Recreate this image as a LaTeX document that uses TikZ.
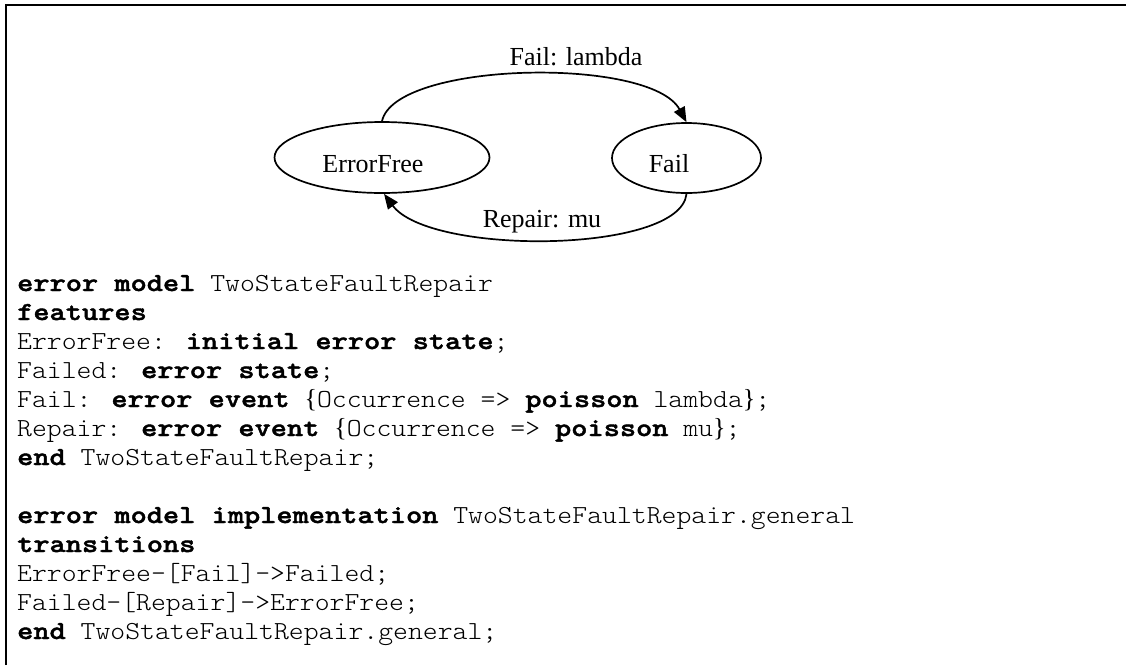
\documentclass[tikz,border=0pt]{standalone}
\usepackage{fontspec}
\setmainfont{Liberation Serif}
% typewriter face for the listing: light regular, heavier bold, widened
\newfontfamily\codefont{lmmonolt10-regular}[
  Extension=.otf,
  BoldFont=lmmonolt10-bold,
  UprightFeatures={FakeStretch=1.09},
  BoldFeatures={FakeStretch=1.187, FakeBold=1.6}]
\newfontfamily\bracefont{Liberation Serif}
\usetikzlibrary{shapes.geometric,arrows.meta}
\newcommand{\lbr}{{\bracefont\{}}
\newcommand{\rbr}{{\bracefont\}}}
\begin{document}
\begin{tikzpicture}[x=1pt,y=-1pt,
  state/.style={draw, ellipse, line width=1.7pt, inner sep=0pt},
  lbl/.style={font=\fontsize{26}{30}\selectfont, inner sep=0pt, anchor=base},
  code/.style={font=\codefont\fontsize{26}{29}\selectfont, inner sep=0pt, anchor=base west},
  arr/.style={line width=1.7pt, -{Triangle[length=15pt,width=12pt]}},
  frame/.style={line width=2.4pt}]
\useasboundingbox (0,0) rectangle (1126,665);

% frame: top and left rules
\draw[frame] (6.2,665) -- (6.2,5) -- (1126,5);

% state machine
\node[state, minimum width=215pt, minimum height=71pt] (ef) at (382,157.5) {};
\node[state, minimum width=149pt, minimum height=70pt] (fl) at (686.5,158) {};
\node[lbl] (eft) at (373,172) {ErrorFree};
\node[lbl] (flt) at (669,172) {Fail};

\draw[arr] (ef.north) .. controls +(13,-60) and +(-36,-66) .. (fl.north);
\draw[arr] (fl.south) .. controls +(-6,60) and +(46,62) .. ([xshift=2pt]ef.south);
\node[lbl] (lf) at (576,65) {Fail: lambda};
\node[lbl] (lr) at (542,227) {Repair: mu};

% error model listing
\node[code] (c0)  at (17,291) {\textbf{error model} TwoStateFaultRepair};
\node[code] (c1)  at (17,320) {\textbf{features}};
\node[code] (c2)  at (17,349) {ErrorFree: \textbf{initial error state};};
\node[code] (c3)  at (17,378) {Failed: \textbf{error state};};
\node[code] (c4)  at (17,407) {Fail: \textbf{error event} \lbr Occurrence => \textbf{poisson} lambda\rbr;};
\node[code] (c5)  at (17,436) {Repair: \textbf{error event} \lbr Occurrence => \textbf{poisson} mu\rbr;};
\node[code] (c6)  at (17,465) {\textbf{end} TwoStateFaultRepair;};
\node[code] (c8)  at (17,523) {\textbf{error model implementation} TwoStateFaultRepair.general};
\node[code] (c9)  at (17,552) {\textbf{transitions}};
\node[code] (c10) at (17,581) {ErrorFree-[Fail]->Failed;};
\node[code] (c11) at (17,610) {Failed-[Repair]->ErrorFree;};
\node[code] (c12) at (17,639) {\textbf{end} TwoStateFaultRepair.general;};
\end{tikzpicture}
\end{document}
